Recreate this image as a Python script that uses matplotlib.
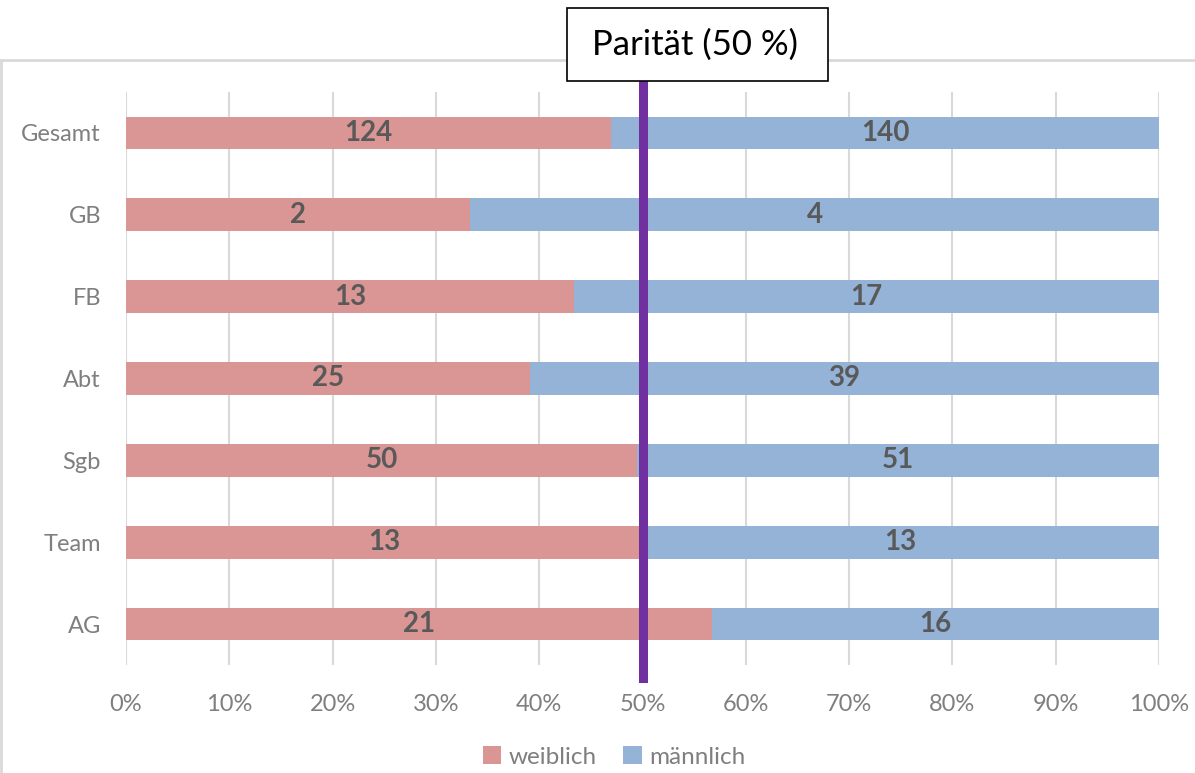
import numpy as np
import matplotlib
matplotlib.use("Agg")
import matplotlib.pyplot as plt
from matplotlib.patches import Rectangle, Patch
from matplotlib.lines import Line2D
import matplotlib.transforms as mtransforms

plt.rcParams['font.family'] = ['Lato', 'DejaVu Sans']

# data (top to bottom as in the chart)
categories = ['Gesamt', 'GB', 'FB', 'Abt', 'Sgb', 'Team', 'AG']
weiblich = [124, 2, 13, 25, 50, 13, 21]
maennlich = [140, 4, 17, 39, 51, 13, 16]
paritaet = 0.5
xticks = [0, 0.1, 0.2, 0.3, 0.4, 0.5, 0.6, 0.7, 0.8, 0.9, 1.0]

pink = '#D99694'
blue = '#95B3D7'
purple = '#7030A0'
grid_col = '#D9D9D9'
tick_col = '#7F7F7F'
label_col = '#595959'

W, H = 1195, 773
fig = plt.figure(figsize=(W / 100, H / 100), dpi=100)
ax = fig.add_axes([126 / W, 1 - 665 / H, (1159 - 126) / W, (665 - 92) / H])

w = np.array(weiblich, dtype=float)
m = np.array(maennlich, dtype=float)
tot = w + m
w_share = w / tot
m_share = m / tot
# AG at bottom
y = np.arange(len(categories))[::-1]

ax.barh(y, w_share, height=0.4, color=pink, zorder=2)
ax.barh(y, m_share, left=w_share, height=0.4, color=blue, zorder=2)

for yi, ws, ms, wv, mv in zip(y, w_share, m_share, weiblich, maennlich):
    ax.text(ws / 2, yi, str(wv), ha='center', va='center', fontsize=20,
            fontweight='bold', color=label_col, zorder=3)
    ax.text(ws + ms / 2, yi, str(mv), ha='center', va='center', fontsize=20,
            fontweight='bold', color=label_col, zorder=3)

ax.set_xlim(0, 1)
ax.set_ylim(-0.5, len(categories) - 0.5)
ax.set_xticks(xticks)
ax.set_xticklabels([f'{int(round(t * 100))}%' for t in xticks])
ax.set_yticks(y)
ax.set_yticklabels(categories)
ax.tick_params(axis='both', length=0, labelsize=17, labelcolor=tick_col)
ax.tick_params(axis='x', pad=21)
ax.tick_params(axis='y', pad=18)
ax.grid(axis='x', color=grid_col, linewidth=1.5, zorder=0)
ax.set_axisbelow(True)
for s in ax.spines.values():
    s.set_visible(False)

# parity line
trans = mtransforms.blended_transform_factory(ax.transData, ax.transAxes)
ax.add_line(Line2D([paritaet, paritaet], [-0.023, 1.06], transform=trans,
                   color=purple, linewidth=6.5, clip_on=False, zorder=4))

# chart frame (top and left edges)
fig.add_artist(Line2D([1 / W, 1.0], [1 - 60 / H, 1 - 60 / H], transform=fig.transFigure,
                      color=grid_col, linewidth=2))
fig.add_artist(Line2D([1 / W, 1 / W], [0, 1 - 60 / H], transform=fig.transFigure,
                      color=grid_col, linewidth=2))

# label box
fig.add_artist(Rectangle((567 / W, 1 - 81 / H), (828 - 567) / W, (81 - 8) / H,
                         transform=fig.transFigure, facecolor='white',
                         edgecolor='black', linewidth=1.2, zorder=5))
fig.text(695 / W, 1 - 45 / H, 'Parität (50 %)', ha='center', va='center',
         fontsize=25, color='black', zorder=6)

# legend
handles = [Patch(facecolor=pink, label='weiblich'), Patch(facecolor=blue, label='männlich')]
fig.legend(handles=handles, loc='center', bbox_to_anchor=(614 / W, 1 - 757 / H), ncol=2,
           frameon=False, fontsize=17.5, labelcolor=tick_col, handlelength=0.75,
           handleheight=0.75, handletextpad=0.3, columnspacing=1.1)

fig.savefig('out.png', dpi=100)
